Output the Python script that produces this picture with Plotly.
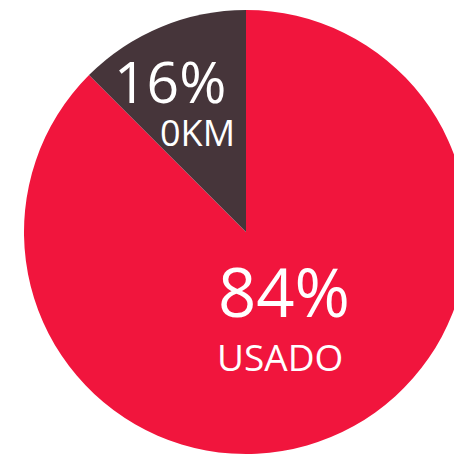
import plotly.graph_objects as go

# Data
categories = ["USADO", "0KM"]
wedge_shares = [87.5, 12.5]          # share as drawn (0KM wedge spans ~45°)
pct_labels = ["84%", "16%"]          # printed percentages
colors = ["#F1153D", "#46353A"]

W, H = 470, 455
cx, cy, r = 246, 232, 222

fig = go.Figure(go.Pie(
    labels=categories,
    values=wedge_shares,
    sort=False,
    direction="clockwise",
    rotation=0,
    marker=dict(colors=colors, line=dict(width=0)),
    textinfo="none",
    hoverinfo="label+percent",
    showlegend=False,
    domain=dict(x=[(cx - r) / W, (cx + r) / W], y=[1 - (cy + r) / H, 1 - (cy - r) / H]),
))

FONT = "Open Sans"
# label positions (pixels) for each category: (pct center, name center)
label_pos = {"0KM": ((170, 80, 57), (197, 132, 36)), "USADO": ((284, 291, 67), (280, 356, 37))}
for cat, pct in zip(categories, pct_labels):
    (px, py, ps), (nx, ny, ns) = label_pos[cat]
    fig.add_annotation(x=px / W, y=1 - py / H, xref="paper", yref="paper", text=pct,
                       xanchor="center", yanchor="middle", height=int(ps * 0.9),
                       showarrow=False, font=dict(family=FONT, size=ps, color="white"))
    fig.add_annotation(x=nx / W, y=1 - ny / H, xref="paper", yref="paper", text=cat,
                       xanchor="center", yanchor="middle", height=int(ns * 1.0),
                       showarrow=False, font=dict(family=FONT, size=ns, color="white"))

fig.update_layout(width=W, height=H, margin=dict(l=0, r=0, t=0, b=0),
                  paper_bgcolor="white", plot_bgcolor="white")

fig.write_html("out.html", config={"displayModeBar": False},
               post_script="document.body.style.margin='0';document.body.style.overflow='hidden';")
